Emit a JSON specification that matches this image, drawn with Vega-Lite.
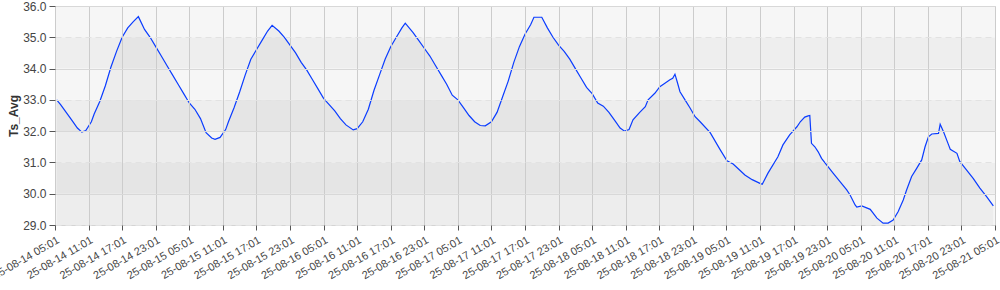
{
  "$schema": "https://vega.github.io/schema/vega-lite/v6.json",
  "width": 940,
  "height": 219,
  "autosize": {"type": "none"},
  "padding": {"left": 55, "top": 6, "right": 5, "bottom": 65},
  "background": "white",
  "config": {
    "font": "Liberation Sans",
    "view": {"stroke": "#d4d4d4", "strokeWidth": 1},
    "axis": {"labelFont": "Liberation Sans", "titleFont": "Liberation Sans"}
  },
  "datasets": {
    "bands": [
      {"lo": 29, "hi": 30, "shade": "light"},
      {"lo": 30, "hi": 31, "shade": "dark"},
      {"lo": 31, "hi": 32, "shade": "light"},
      {"lo": 32, "hi": 33, "shade": "dark"},
      {"lo": 33, "hi": 34, "shade": "light"},
      {"lo": 34, "hi": 35, "shade": "dark"},
      {"lo": 35, "hi": 36, "shade": "light"}
    ],
    "ts": [
      {"t": "2025-08-14T05:19", "v": 33.0},
      {"t": "2025-08-14T06:01", "v": 32.85},
      {"t": "2025-08-14T07:01", "v": 32.6},
      {"t": "2025-08-14T08:01", "v": 32.35},
      {"t": "2025-08-14T09:01", "v": 32.1},
      {"t": "2025-08-14T09:49", "v": 31.97},
      {"t": "2025-08-14T10:31", "v": 32.02},
      {"t": "2025-08-14T11:31", "v": 32.3},
      {"t": "2025-08-14T12:01", "v": 32.55},
      {"t": "2025-08-14T13:01", "v": 32.95},
      {"t": "2025-08-14T14:01", "v": 33.45},
      {"t": "2025-08-14T15:01", "v": 34.05},
      {"t": "2025-08-14T16:01", "v": 34.55},
      {"t": "2025-08-14T17:01", "v": 35.0},
      {"t": "2025-08-14T18:01", "v": 35.3},
      {"t": "2025-08-14T19:01", "v": 35.5},
      {"t": "2025-08-14T19:55", "v": 35.66},
      {"t": "2025-08-14T21:01", "v": 35.25},
      {"t": "2025-08-14T22:01", "v": 35.0},
      {"t": "2025-08-14T23:01", "v": 34.7},
      {"t": "2025-08-15T00:01", "v": 34.4},
      {"t": "2025-08-15T01:01", "v": 34.1},
      {"t": "2025-08-15T02:01", "v": 33.8},
      {"t": "2025-08-15T03:01", "v": 33.5},
      {"t": "2025-08-15T04:01", "v": 33.2},
      {"t": "2025-08-15T05:01", "v": 32.9},
      {"t": "2025-08-15T06:01", "v": 32.7},
      {"t": "2025-08-15T07:01", "v": 32.4},
      {"t": "2025-08-15T08:01", "v": 31.95},
      {"t": "2025-08-15T09:01", "v": 31.78},
      {"t": "2025-08-15T09:37", "v": 31.74},
      {"t": "2025-08-15T10:31", "v": 31.8},
      {"t": "2025-08-15T11:31", "v": 32.05},
      {"t": "2025-08-15T12:01", "v": 32.3},
      {"t": "2025-08-15T13:01", "v": 32.75},
      {"t": "2025-08-15T14:01", "v": 33.25},
      {"t": "2025-08-15T15:01", "v": 33.8},
      {"t": "2025-08-15T16:01", "v": 34.3},
      {"t": "2025-08-15T17:01", "v": 34.6},
      {"t": "2025-08-15T18:01", "v": 34.9},
      {"t": "2025-08-15T19:01", "v": 35.2},
      {"t": "2025-08-15T19:49", "v": 35.38},
      {"t": "2025-08-15T21:01", "v": 35.2},
      {"t": "2025-08-15T22:01", "v": 35.0},
      {"t": "2025-08-15T23:01", "v": 34.75},
      {"t": "2025-08-16T00:01", "v": 34.5},
      {"t": "2025-08-16T01:01", "v": 34.2},
      {"t": "2025-08-16T02:01", "v": 33.95},
      {"t": "2025-08-16T03:01", "v": 33.65},
      {"t": "2025-08-16T04:01", "v": 33.35},
      {"t": "2025-08-16T05:01", "v": 33.05},
      {"t": "2025-08-16T06:01", "v": 32.85},
      {"t": "2025-08-16T07:01", "v": 32.65},
      {"t": "2025-08-16T08:01", "v": 32.4},
      {"t": "2025-08-16T09:01", "v": 32.2},
      {"t": "2025-08-16T10:19", "v": 32.04},
      {"t": "2025-08-16T11:01", "v": 32.08},
      {"t": "2025-08-16T12:01", "v": 32.3},
      {"t": "2025-08-16T13:01", "v": 32.7},
      {"t": "2025-08-16T14:01", "v": 33.3},
      {"t": "2025-08-16T15:01", "v": 33.8},
      {"t": "2025-08-16T16:01", "v": 34.3},
      {"t": "2025-08-16T17:01", "v": 34.7},
      {"t": "2025-08-16T18:01", "v": 35.0},
      {"t": "2025-08-16T19:01", "v": 35.3},
      {"t": "2025-08-16T19:37", "v": 35.45},
      {"t": "2025-08-16T21:01", "v": 35.15},
      {"t": "2025-08-16T22:01", "v": 34.9},
      {"t": "2025-08-16T23:01", "v": 34.65},
      {"t": "2025-08-17T00:01", "v": 34.4},
      {"t": "2025-08-17T01:01", "v": 34.1},
      {"t": "2025-08-17T02:01", "v": 33.8},
      {"t": "2025-08-17T03:01", "v": 33.5},
      {"t": "2025-08-17T04:01", "v": 33.15},
      {"t": "2025-08-17T05:01", "v": 33.0},
      {"t": "2025-08-17T06:01", "v": 32.75},
      {"t": "2025-08-17T07:01", "v": 32.5},
      {"t": "2025-08-17T08:01", "v": 32.3},
      {"t": "2025-08-17T09:01", "v": 32.18},
      {"t": "2025-08-17T09:55", "v": 32.17},
      {"t": "2025-08-17T11:01", "v": 32.3},
      {"t": "2025-08-17T12:01", "v": 32.6},
      {"t": "2025-08-17T13:01", "v": 33.1},
      {"t": "2025-08-17T14:01", "v": 33.6},
      {"t": "2025-08-17T15:01", "v": 34.2},
      {"t": "2025-08-17T16:01", "v": 34.7},
      {"t": "2025-08-17T17:01", "v": 35.1},
      {"t": "2025-08-17T18:01", "v": 35.4},
      {"t": "2025-08-17T18:37", "v": 35.64},
      {"t": "2025-08-17T20:01", "v": 35.64},
      {"t": "2025-08-17T21:01", "v": 35.3},
      {"t": "2025-08-17T22:01", "v": 35.0},
      {"t": "2025-08-17T23:01", "v": 34.75},
      {"t": "2025-08-18T00:01", "v": 34.55},
      {"t": "2025-08-18T01:01", "v": 34.3},
      {"t": "2025-08-18T02:01", "v": 34.0},
      {"t": "2025-08-18T03:01", "v": 33.7},
      {"t": "2025-08-18T04:01", "v": 33.4},
      {"t": "2025-08-18T05:01", "v": 33.2},
      {"t": "2025-08-18T06:01", "v": 32.9},
      {"t": "2025-08-18T07:01", "v": 32.8},
      {"t": "2025-08-18T08:01", "v": 32.6},
      {"t": "2025-08-18T09:01", "v": 32.35},
      {"t": "2025-08-18T10:01", "v": 32.1},
      {"t": "2025-08-18T10:49", "v": 32.0},
      {"t": "2025-08-18T11:37", "v": 32.05},
      {"t": "2025-08-18T12:19", "v": 32.36},
      {"t": "2025-08-18T13:31", "v": 32.6},
      {"t": "2025-08-18T14:31", "v": 32.78},
      {"t": "2025-08-18T15:01", "v": 33.0},
      {"t": "2025-08-18T16:13", "v": 33.21},
      {"t": "2025-08-18T17:07", "v": 33.42},
      {"t": "2025-08-18T18:01", "v": 33.53},
      {"t": "2025-08-18T18:55", "v": 33.64},
      {"t": "2025-08-18T19:25", "v": 33.69},
      {"t": "2025-08-18T19:49", "v": 33.82},
      {"t": "2025-08-18T20:13", "v": 33.58},
      {"t": "2025-08-18T20:43", "v": 33.26},
      {"t": "2025-08-18T21:37", "v": 33.0},
      {"t": "2025-08-18T22:31", "v": 32.74},
      {"t": "2025-08-18T23:25", "v": 32.46},
      {"t": "2025-08-19T00:19", "v": 32.3},
      {"t": "2025-08-19T02:07", "v": 31.95},
      {"t": "2025-08-19T03:55", "v": 31.4},
      {"t": "2025-08-19T05:07", "v": 31.05},
      {"t": "2025-08-19T06:13", "v": 30.95},
      {"t": "2025-08-19T07:25", "v": 30.75},
      {"t": "2025-08-19T08:19", "v": 30.6},
      {"t": "2025-08-19T09:37", "v": 30.45},
      {"t": "2025-08-19T11:01", "v": 30.33},
      {"t": "2025-08-19T11:25", "v": 30.3},
      {"t": "2025-08-19T12:25", "v": 30.65},
      {"t": "2025-08-19T14:13", "v": 31.18},
      {"t": "2025-08-19T15:07", "v": 31.56},
      {"t": "2025-08-19T16:19", "v": 31.88},
      {"t": "2025-08-19T17:37", "v": 32.14},
      {"t": "2025-08-19T18:13", "v": 32.3},
      {"t": "2025-08-19T19:01", "v": 32.45},
      {"t": "2025-08-19T19:37", "v": 32.49},
      {"t": "2025-08-19T19:55", "v": 32.5},
      {"t": "2025-08-19T20:13", "v": 31.61},
      {"t": "2025-08-19T20:49", "v": 31.5},
      {"t": "2025-08-19T21:25", "v": 31.34},
      {"t": "2025-08-19T22:01", "v": 31.13},
      {"t": "2025-08-19T22:55", "v": 30.92},
      {"t": "2025-08-20T00:07", "v": 30.65},
      {"t": "2025-08-20T01:19", "v": 30.39},
      {"t": "2025-08-20T02:31", "v": 30.12},
      {"t": "2025-08-20T03:07", "v": 29.96},
      {"t": "2025-08-20T04:01", "v": 29.64},
      {"t": "2025-08-20T04:19", "v": 29.57},
      {"t": "2025-08-20T05:13", "v": 29.61},
      {"t": "2025-08-20T06:43", "v": 29.5},
      {"t": "2025-08-20T07:55", "v": 29.22},
      {"t": "2025-08-20T09:01", "v": 29.06},
      {"t": "2025-08-20T09:55", "v": 29.06},
      {"t": "2025-08-20T10:49", "v": 29.16},
      {"t": "2025-08-20T11:43", "v": 29.43},
      {"t": "2025-08-20T12:37", "v": 29.8},
      {"t": "2025-08-20T13:13", "v": 30.12},
      {"t": "2025-08-20T14:07", "v": 30.55},
      {"t": "2025-08-20T15:01", "v": 30.81},
      {"t": "2025-08-20T15:55", "v": 31.08},
      {"t": "2025-08-20T16:31", "v": 31.5},
      {"t": "2025-08-20T17:07", "v": 31.82},
      {"t": "2025-08-20T17:43", "v": 31.91},
      {"t": "2025-08-20T18:55", "v": 31.93},
      {"t": "2025-08-20T19:13", "v": 32.22},
      {"t": "2025-08-20T19:49", "v": 31.98},
      {"t": "2025-08-20T20:43", "v": 31.56},
      {"t": "2025-08-20T21:01", "v": 31.42},
      {"t": "2025-08-20T22:13", "v": 31.29},
      {"t": "2025-08-20T22:43", "v": 31.03},
      {"t": "2025-08-20T23:55", "v": 30.76},
      {"t": "2025-08-21T01:07", "v": 30.49},
      {"t": "2025-08-21T02:19", "v": 30.18},
      {"t": "2025-08-21T03:31", "v": 29.91},
      {"t": "2025-08-21T04:43", "v": 29.61}
    ]
  },
  "layer": [
    {
      "data": {"name": "bands"},
      "mark": {"type": "rect"},
      "encoding": {
        "y": {
          "field": "lo",
          "type": "quantitative",
          "scale": {"domain": [29, 36], "nice": false, "zero": false},
          "axis": {
            "title": "Ts_Avg",
            "titleFontSize": 12,
            "titleFontWeight": "bold",
            "titleColor": "#333333",
            "titlePadding": 2,
            "values": [29, 30, 31, 32, 33, 34, 35, 36],
            "tickCount": 20,
            "format": ".1f",
            "labelFontSize": 12,
            "labelColor": "#444444",
            "labelPadding": 3,
            "tickColor": "#555555",
            "tickSize": 6,
            "domain": false,
            "grid": true,
            "gridColor": {"condition": {"test": "datum.value % 2 === 1", "value": "#e2e2e2"}, "value": "#d8d8d8"},
            "gridDash": {"condition": {"test": "datum.value % 2 === 1", "value": [6, 4]}, "value": []},
            "gridWidth": 1,
            "zindex": 1
          }
        },
        "y2": {"field": "hi"},
        "color": {"field": "shade", "type": "nominal", "scale": {"domain": ["light", "dark"], "range": ["#f6f6f6", "#eeeeee"]}, "legend": null}
      }
    },
    {
      "data": {"name": "ts"},
      "mark": {"type": "area", "color": "#000000", "opacity": 0.035, "clip": true},
      "encoding": {
        "x": {
          "field": "t",
          "type": "temporal",
          "scale": {"domain": [
            {"year": 2025, "month": 8, "date": 14, "hours": 5, "minutes": 1},
            {"year": 2025, "month": 8, "date": 21, "hours": 5, "minutes": 1}
          ]},
          "axis": {
            "title": null,
            "tickCount": 60,
            "values": [
              {"year": 2025, "month": 8, "date": 14, "hours": 5, "minutes": 1},
              {"year": 2025, "month": 8, "date": 14, "hours": 11, "minutes": 1},
              {"year": 2025, "month": 8, "date": 14, "hours": 17, "minutes": 1},
              {"year": 2025, "month": 8, "date": 14, "hours": 23, "minutes": 1},
              {"year": 2025, "month": 8, "date": 15, "hours": 5, "minutes": 1},
              {"year": 2025, "month": 8, "date": 15, "hours": 11, "minutes": 1},
              {"year": 2025, "month": 8, "date": 15, "hours": 17, "minutes": 1},
              {"year": 2025, "month": 8, "date": 15, "hours": 23, "minutes": 1},
              {"year": 2025, "month": 8, "date": 16, "hours": 5, "minutes": 1},
              {"year": 2025, "month": 8, "date": 16, "hours": 11, "minutes": 1},
              {"year": 2025, "month": 8, "date": 16, "hours": 17, "minutes": 1},
              {"year": 2025, "month": 8, "date": 16, "hours": 23, "minutes": 1},
              {"year": 2025, "month": 8, "date": 17, "hours": 5, "minutes": 1},
              {"year": 2025, "month": 8, "date": 17, "hours": 11, "minutes": 1},
              {"year": 2025, "month": 8, "date": 17, "hours": 17, "minutes": 1},
              {"year": 2025, "month": 8, "date": 17, "hours": 23, "minutes": 1},
              {"year": 2025, "month": 8, "date": 18, "hours": 5, "minutes": 1},
              {"year": 2025, "month": 8, "date": 18, "hours": 11, "minutes": 1},
              {"year": 2025, "month": 8, "date": 18, "hours": 17, "minutes": 1},
              {"year": 2025, "month": 8, "date": 18, "hours": 23, "minutes": 1},
              {"year": 2025, "month": 8, "date": 19, "hours": 5, "minutes": 1},
              {"year": 2025, "month": 8, "date": 19, "hours": 11, "minutes": 1},
              {"year": 2025, "month": 8, "date": 19, "hours": 17, "minutes": 1},
              {"year": 2025, "month": 8, "date": 19, "hours": 23, "minutes": 1},
              {"year": 2025, "month": 8, "date": 20, "hours": 5, "minutes": 1},
              {"year": 2025, "month": 8, "date": 20, "hours": 11, "minutes": 1},
              {"year": 2025, "month": 8, "date": 20, "hours": 17, "minutes": 1},
              {"year": 2025, "month": 8, "date": 20, "hours": 23, "minutes": 1},
              {"year": 2025, "month": 8, "date": 21, "hours": 5, "minutes": 1}
            ],
            "format": "%y-%m-%d %H:%M",
            "labelAngle": -30,
            "labelAlign": "right",
            "labelBaseline": "top",
            "labelFontSize": 11,
            "labelColor": "#444444",
            "labelPadding": 4,
            "labelOverlap": false,
            "labelBound": false,
            "labelFlush": false,
            "tickColor": "#555555",
            "tickSize": 5,
            "domain": false,
            "grid": true,
            "gridColor": "#cccccc",
            "gridWidth": 1,
            "zindex": 1
          }
        },
        "y": {"field": "v", "type": "quantitative"}
      }
    },
    {
      "data": {"name": "ts"},
      "mark": {"type": "line", "color": "#0a3cff", "strokeWidth": 1.2, "clip": true},
      "encoding": {
        "x": {"field": "t", "type": "temporal"},
        "y": {"field": "v", "type": "quantitative"}
      }
    }
  ]
}
